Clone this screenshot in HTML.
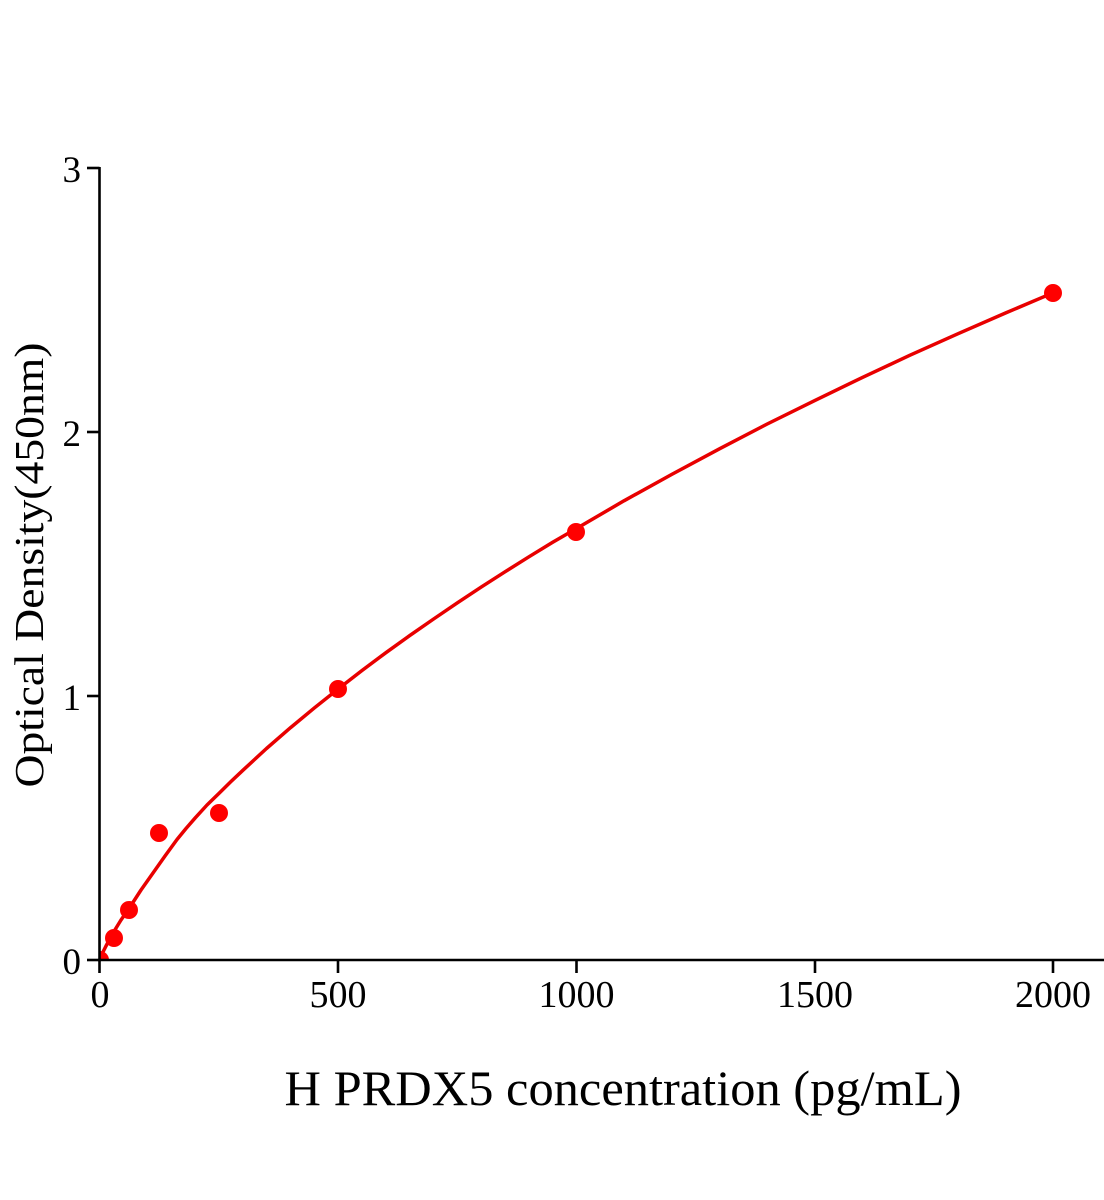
<!DOCTYPE html>
<html>
<head>
<meta charset="utf-8">
<style>
  html, body { margin: 0; padding: 0; background: #ffffff; }
  svg { display: block; }
  text { font-family: "Liberation Serif", "Times New Roman", serif; fill: #000; }
</style>
</head>
<body>
<svg width="1104" height="1200" viewBox="0 0 1104 1200" xmlns="http://www.w3.org/2000/svg">
  <defs>
    <clipPath id="plot">
      <rect x="100" y="100" width="1004" height="859"/>
    </clipPath>
  </defs>

  <!-- fitted curve -->
  <polyline clip-path="url(#plot)" fill="none" stroke="#e80000" stroke-width="3.5" stroke-linejoin="round" stroke-linecap="round"
    points="100,958 106,946 113,933 121,920 130,907 141,890 153,873 165,856 177,839.5 186,828.5 195.3,817.8 207,805 219.1,793.2 231,781.5 243,770.2 266.5,748.5 290.6,727.6 314.5,707.8 338.3,688.9 362,670.5 385.9,652.7 409.7,635.6 433.6,619 457.4,602.8 481.2,587.1 505,571.8 528.9,556.8 552.7,542.3 576.5,528.5 624,500.8 671.8,474.4 719.5,448.8 767.2,424 815,400.4 862.5,377.4 910,355.2 957.8,333.8 1005.5,313 1053.1,292.8"/>

  <!-- data points -->
  <g fill="#ff0000">
    <circle cx="100" cy="960" r="9" clip-path="url(#plot)"/>
    <circle cx="114" cy="938" r="9"/>
    <circle cx="129" cy="910" r="9"/>
    <circle cx="159" cy="833" r="9"/>
    <circle cx="219" cy="813" r="9"/>
    <circle cx="338" cy="689" r="9"/>
    <circle cx="576" cy="532" r="9"/>
    <circle cx="1053" cy="293" r="9"/>
  </g>

  <!-- axes -->
  <g stroke="#000" stroke-width="2.6" fill="none">
    <line x1="99.5" y1="167" x2="99.5" y2="961.3"/>
    <line x1="98.2" y1="960" x2="1104" y2="960"/>
    <!-- y ticks -->
    <line x1="87" y1="168" x2="99.5" y2="168"/>
    <line x1="87" y1="432" x2="99.5" y2="432"/>
    <line x1="87" y1="696" x2="99.5" y2="696"/>
    <line x1="87" y1="960" x2="99.5" y2="960"/>
    <!-- x ticks -->
    <line x1="99.5" y1="960" x2="99.5" y2="973"/>
    <line x1="338" y1="960" x2="338" y2="973"/>
    <line x1="576.5" y1="960" x2="576.5" y2="973"/>
    <line x1="815" y1="960" x2="815" y2="973"/>
    <line x1="1053" y1="960" x2="1053" y2="973"/>
  </g>

  <!-- y tick labels -->
  <g font-size="37" text-anchor="end">
    <text x="81" y="182">3</text>
    <text x="81" y="446">2</text>
    <text x="81" y="710">1</text>
    <text x="81" y="974">0</text>
  </g>

  <!-- x tick labels -->
  <g font-size="38" text-anchor="middle">
    <text x="100" y="1007">0</text>
    <text x="338" y="1007">500</text>
    <text x="576.5" y="1007">1000</text>
    <text x="815" y="1007">1500</text>
    <text x="1053" y="1007">2000</text>
  </g>

  <!-- axis titles -->
  <text x="623" y="1105" font-size="50" text-anchor="middle" textLength="677" lengthAdjust="spacingAndGlyphs">H PRDX5 concentration (pg/mL)</text>
  <text transform="translate(43,565) rotate(-90)" x="0" y="0" font-size="41" text-anchor="middle" textLength="445" lengthAdjust="spacingAndGlyphs">Optical Density(450nm)</text>
</svg>
</body>
</html>
